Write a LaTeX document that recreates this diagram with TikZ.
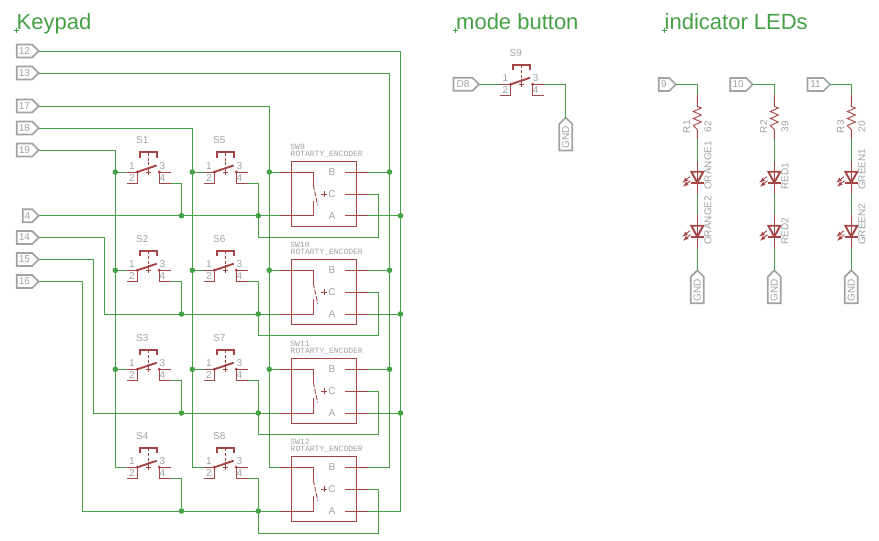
\documentclass[tikz,border=0pt]{standalone}
\usepackage{fontspec}
\setmainfont{Liberation Sans}
\newfontfamily\encfont{Liberation Mono}
\usetikzlibrary{shapes.symbols}
\definecolor{netgreen}{HTML}{46A046}
\definecolor{symred}{HTML}{A54545}
\definecolor{labelgray}{HTML}{A2A2A2}
\tikzset{
  net/.style={draw=netgreen, line width=.9pt},
  sym/.style={draw=symred, line width=.9pt},
  symthick/.style={draw=symred, line width=1.9pt},
  junct/.style={circle, fill=netgreen, inner sep=0pt, minimum size=5.6pt},
  heading/.style={text=netgreen, font=\fontsize{22}{24}\selectfont, inner sep=0pt, anchor=base west},
  lbl/.style={text=labelgray, font=\fontsize{10}{11}\selectfont, inner sep=0pt},
  enclbl/.style={text=labelgray, font=\encfont\fontsize{8}{9}\selectfont, inner sep=0pt, anchor=west},
  porttag/.style={shape=signal, signal to=east, signal from=nowhere, signal pointer angle=90,
    draw=labelgray, line width=1.7pt, outer sep=0pt, inner sep=0pt, minimum height=13pt,
    minimum width=#1, text=labelgray, font=\fontsize{10}{11}\selectfont, anchor=east},
  pics/tactsw/.style={code={
    \coordinate (-pin1) at (-21.6,0);
    \coordinate (-pin3) at (22.7,0);
    \coordinate (-pin4) at (22.7,11);
    \draw[symthick] (-8.6,-14) -- (-8.6,-19.6) -- (8.4,-19.6) -- (8.4,-14);
    \draw[sym, dash pattern=on 3pt off 1.6pt] (0,-19) -- (0,-2);
    \draw[sym] (-2.6,0.3) -- (2.6,0.3) (0,-2) -- (0,2.5);
    \draw[symthick] (-11,0) -- (8.4,-6.6);
    \draw[sym] (-21.6,0) -- (-11,0) -- (-11,11) -- (-21.6,11);
    \draw[sym] (22.7,0) -- (11,0) -- (11,11) -- (22.7,11);
    \fill[symred] (-11,0) circle (1.7pt) (11,0) circle (1.7pt);
    \node[lbl] (-n1) at (-16.3,-6) {1};
    \node[lbl] (-n2) at (-16.3,5.7) {2};
    \node[lbl] (-n3) at (14,-6) {3};
    \node[lbl] (-n4) at (14,5.7) {4};
    \node[lbl] (-name) at (-6,-31.6) {#1};
  }},
  pics/encoder/.style={code={
    \coordinate (-lb) at (-44,0);
    \coordinate (-la) at (-44,43.7);
    \coordinate (-rb) at (43.7,0);
    \coordinate (-rc) at (43.7,22);
    \coordinate (-ra) at (43.7,43.7);
    \draw[sym] (-32.7,-11) rectangle (32.7,54.4);
    \draw[sym] (-44,0) -- (-10.7,0) -- (-10.7,13);
    \draw[sym] (-44,43.7) -- (-10.7,43.7) -- (-10.7,29);
    \draw[sym, dash pattern=on 5pt off 1.6pt] (-10.7,13) -- (-6.3,33.4);
    \draw[sym] (-3,22) -- (3,22) (0,19) -- (0,25);
    \draw[sym] (21,0) -- (43.7,0) (21,22) -- (43.7,22) (21,43.7) -- (43.7,43.7);
    \node[lbl] (-b) at (8,0) {B};
    \node[lbl] (-c) at (8,22) {C};
    \node[lbl] (-a) at (8,43.7) {A};
    \node[enclbl] (-type) at (-33.5,-17.6) {ROTARTY\_ENCODER};
    \node[enclbl] (-name) at (-33.8,-25) {#1};
  }},
  pics/rzig/.style={code={
    \coordinate (-top) at (0,-23);
    \coordinate (-bot) at (0,21.3);
    \draw[sym] (0,-23) -- (0,-11.5) -- (4,-10) -- (-4,-6.5) -- (4,-3) -- (-4,0.5) -- (4,4) -- (-4,7.5) -- (0,11.5) -- (0,21.3);
  }},
  pics/ledsym/.style={code={
    \coordinate (-top) at (0,-21.7);
    \coordinate (-bot) at (0,11.6);
    \draw[sym] (0,-21.7) -- (0,11.6);
    \draw[symthick] (-6,-11) -- (6,-11) -- (0,0) -- cycle;
    \draw[symthick] (-6.7,0) -- (6.7,0);
    \draw[sym, -latex] (-7.5,-6) -- (-15,0);
    \draw[sym, -latex] (-6.8,-2) -- (-14.3,4);
  }},
}

\begin{document}
\begin{tikzpicture}[x=1pt,y=-1pt]
\useasboundingbox (0,0) rectangle (879,541);
% headings
\node[heading] (keypadhead) at (16.5,29) {Keypad};
\node[heading] (modehead) at (456,29) {mode button};
\node[heading] (ledhead) at (664.5,29) {indicator LEDs};
\draw[net] (13.5,30) -- (18.5,30) (16,27.5) -- (16,32.5);
\draw[net] (452.5,30) -- (457.5,30) (455,27.5) -- (455,32.5);
\draw[net] (661.5,30) -- (666.5,30) (664,27.5) -- (664,32.5);

% keypad ports
\node[porttag=22pt] (p12) at (38.7,51) {12};
\node[porttag=22pt] (p13) at (38.7,73) {13};
\node[porttag=22pt] (p17) at (38.7,106) {17};
\node[porttag=22pt] (p18) at (38.7,128) {18};
\node[porttag=22pt] (p19) at (38.7,150) {19};
\node[porttag=16pt] (p4) at (38.7,215.7) {4};
\node[porttag=22pt] (p14) at (38.7,237.5) {14};
\node[porttag=22pt] (p15) at (38.7,259.5) {15};
\node[porttag=22pt] (p16) at (38.7,281.5) {16};

% switches
\pic (s1) at (148.3,172) {tactsw=S1};
\pic (s2) at (148.3,270.3) {tactsw=S2};
\pic (s3) at (148.3,369.3) {tactsw=S3};
\pic (s4) at (148.3,467.3) {tactsw=S4};
\pic (s5) at (225.3,172) {tactsw=S5};
\pic (s6) at (225.3,270.3) {tactsw=S6};
\pic (s7) at (225.3,369.3) {tactsw=S7};
\pic (s8) at (225.3,467.3) {tactsw=S8};

% encoders
\pic (e1) at (324,172) {encoder=SW9};
\pic (e2) at (324,270.3) {encoder=SW10};
\pic (e3) at (324,369.3) {encoder=SW11};
\pic (e4) at (324,467.3) {encoder=SW12};

% column rails
\coordinate (c19) at (115.3,467.3);
\coordinate (c18) at (192.3,467.3);
\coordinate (c17) at (269.3,467.3);
\coordinate (c13) at (389.5,467.3);
\coordinate (c12) at (400.5,511);
\draw[net] (p19.east) -| (c19) -- (s4-pin1);
\draw[net] (p18.east) -| (c18) -- (s8-pin1);
\draw[net] (p17.east) -| (c17) -- (e4-lb);
\draw[net] (p13.east) -| (c13) -- (e4-rb);
\draw[net] (p12.east) -| (c12) -- (e4-ra);

\node[junct] (j11) at (115.3,172) {};
\node[junct] (j12) at (115.3,270.3) {};
\node[junct] (j13) at (115.3,369.3) {};
\node[junct] (j21) at (192.3,172) {};
\node[junct] (j22) at (192.3,270.3) {};
\node[junct] (j23) at (192.3,369.3) {};
\node[junct] (j31) at (269.3,172) {};
\node[junct] (j32) at (269.3,270.3) {};
\node[junct] (j33) at (269.3,369.3) {};
\node[junct] (j41) at (389.5,172) {};
\node[junct] (j42) at (389.5,270.3) {};
\node[junct] (j43) at (389.5,369.3) {};
\node[junct] (j51) at (400.5,215.7) {};
\node[junct] (j52) at (400.5,314) {};
\node[junct] (j53) at (400.5,413) {};
\draw[net] (j11) -- (s1-pin1);
\draw[net] (j12) -- (s2-pin1);
\draw[net] (j13) -- (s3-pin1);
\draw[net] (j21) -- (s5-pin1);
\draw[net] (j22) -- (s6-pin1);
\draw[net] (j23) -- (s7-pin1);
\draw[net] (j31) -- (e1-lb);
\draw[net] (j32) -- (e2-lb);
\draw[net] (j33) -- (e3-lb);
\draw[net] (e1-rb) -- (j41);
\draw[net] (e2-rb) -- (j42);
\draw[net] (e3-rb) -- (j43);
\draw[net] (e1-ra) -- (j51);
\draw[net] (e2-ra) -- (j52);
\draw[net] (e3-ra) -- (j53);

% row buses
\node[junct] (b11) at (181.5,215.7) {};
\node[junct] (b12) at (181.5,314) {};
\node[junct] (b13) at (181.5,413) {};
\node[junct] (b14) at (181.5,511) {};
\node[junct] (b21) at (258.3,215.7) {};
\node[junct] (b22) at (258.3,314) {};
\node[junct] (b23) at (258.3,413) {};
\node[junct] (b24) at (258.3,511) {};
\coordinate (t14) at (104.7,314);
\coordinate (t15) at (93.7,413);
\coordinate (t16) at (82.5,511);
\draw[net] (p4.east) -- (e1-la);
\draw[net] (p14.east) -| (t14) -- (e2-la);
\draw[net] (p15.east) -| (t15) -- (e3-la);
\draw[net] (p16.east) -| (t16) -- (e4-la);
\draw[net] (s1-pin4) -| (b11);
\draw[net] (s2-pin4) -| (b12);
\draw[net] (s3-pin4) -| (b13);
\draw[net] (s4-pin4) -| (b14);

% common pin loops
\coordinate (lb1) at (258.3,237.5);
\coordinate (lb2) at (258.3,335.8);
\coordinate (lb3) at (258.3,434.8);
\coordinate (lb4) at (258.3,533.3);
\coordinate (rb1) at (378.5,237.5);
\coordinate (rb2) at (378.5,335.8);
\coordinate (rb3) at (378.5,434.8);
\coordinate (rb4) at (378.5,533.3);
\draw[net] (s5-pin4) -| (lb1) -- (rb1) |- (e1-rc);
\draw[net] (s6-pin4) -| (lb2) -- (rb2) |- (e2-rc);
\draw[net] (s7-pin4) -| (lb3) -- (rb3) |- (e3-rc);
\draw[net] (s8-pin4) -| (lb4) -- (rb4) |- (e4-rc);

% mode button
\pic (s9) at (521.7,84.3) {tactsw=S9};
\node[porttag=25.5pt] (d8) at (479,84.3) {D8};
\node[porttag=33pt, rotate=90] (g0) at (565.7,117.5) {GND};
\draw[net] (d8.east) -- (s9-pin1);
\draw[net] (s9-pin3) -| (g0.east);

% indicator LEDs
\node[porttag=17pt] (p9) at (675.7,84.5) {9};
\node[porttag=22.5pt] (p10) at (752.7,84.5) {10};
\node[porttag=22.5pt] (p11) at (830,84.5) {11};
\pic (r1) at (697.3,118) {rzig};
\pic (r2) at (774.3,118) {rzig};
\pic (r3) at (851.3,118) {rzig};
\pic (l1) at (697.3,182.7) {ledsym};
\pic (l2) at (774.3,182.7) {ledsym};
\pic (l3) at (851.3,182.7) {ledsym};
\pic (l4) at (697.3,236.7) {ledsym};
\pic (l5) at (774.3,236.7) {ledsym};
\pic (l6) at (851.3,236.7) {ledsym};
\node[porttag=33pt, rotate=90] (g1) at (697.3,270.3) {GND};
\node[porttag=33pt, rotate=90] (g2) at (774.3,270.3) {GND};
\node[porttag=33pt, rotate=90] (g3) at (851.3,270.3) {GND};
\draw[net] (p9.east) -| (r1-top);
\draw[net] (p10.east) -| (r2-top);
\draw[net] (p11.east) -| (r3-top);
\draw[net] (r1-bot) -- (l1-top);
\draw[net] (r2-bot) -- (l2-top);
\draw[net] (r3-bot) -- (l3-top);
\draw[net] (l1-bot) -- (l4-top);
\draw[net] (l2-bot) -- (l5-top);
\draw[net] (l3-bot) -- (l6-top);
\draw[net] (l4-bot) -- (g1.east);
\draw[net] (l5-bot) -- (g2.east);
\draw[net] (l6-bot) -- (g3.east);
\node[lbl, rotate=90] (r1name) at (686.7,126.7) {R1};
\node[lbl, rotate=90] (r2name) at (763.7,126.7) {R2};
\node[lbl, rotate=90] (r3name) at (840.7,126.7) {R3};
\node[lbl, rotate=90] (r1val) at (708,126.7) {62};
\node[lbl, rotate=90] (r2val) at (785,126.7) {39};
\node[lbl, rotate=90] (r3val) at (862,126.7) {20};
\node[lbl, rotate=90, anchor=west] (l1name) at (708,190) {ORANGE1};
\node[lbl, rotate=90, anchor=west] (l2name) at (785,190) {RED1};
\node[lbl, rotate=90, anchor=west] (l3name) at (862,190) {GREEN1};
\node[lbl, rotate=90, anchor=west] (l4name) at (708,245) {ORANGE2};
\node[lbl, rotate=90, anchor=west] (l5name) at (785,245) {RED2};
\node[lbl, rotate=90, anchor=west] (l6name) at (862,245) {GREEN2};
\end{tikzpicture}
\end{document}
